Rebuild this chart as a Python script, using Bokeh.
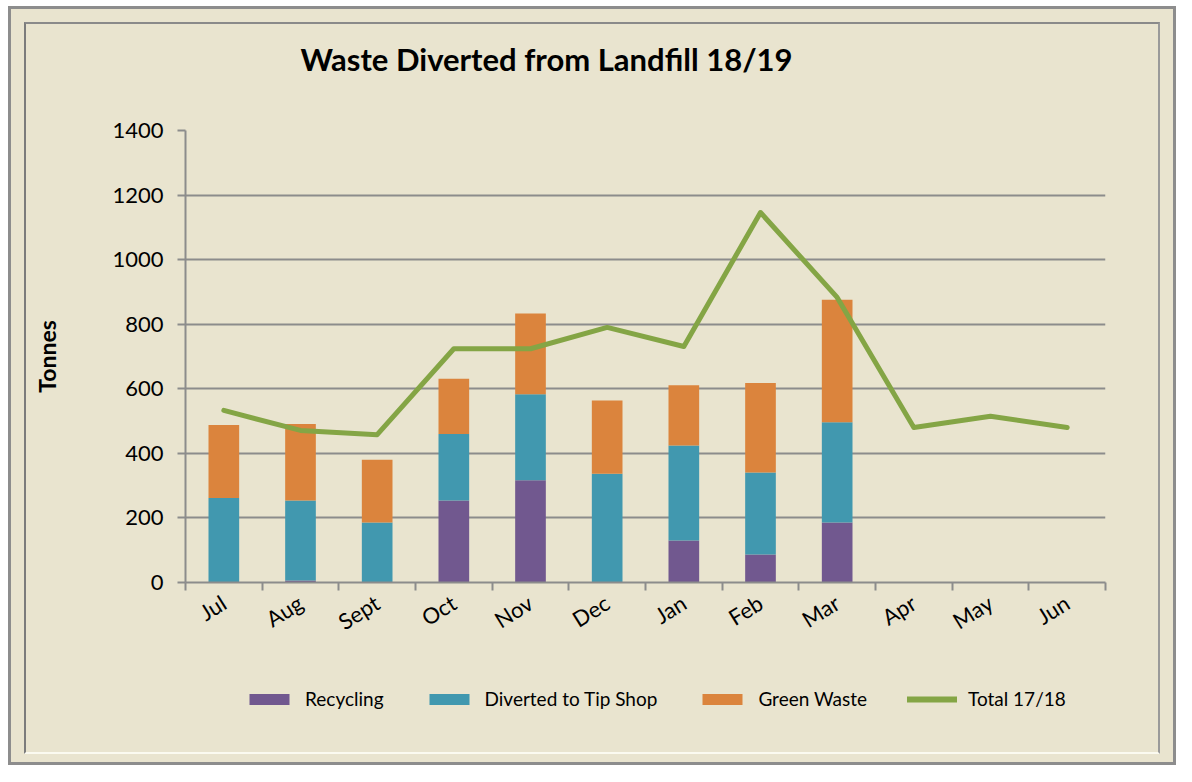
import math
from bokeh.plotting import figure
from bokeh.models import Range1d, FixedTicker, Legend, LegendItem, Label
from bokeh.layouts import column
from bokeh.embed import file_html
from bokeh.resources import INLINE

months = ["Jul", "Aug", "Sept", "Oct", "Nov", "Dec", "Jan", "Feb", "Mar", "Apr", "May", "Jun"]
recycling = [0, 6, 0, 254, 317, 0, 130, 87, 186, 0, 0, 0]
tip_shop = [262, 248, 186, 206, 266, 337, 294, 254, 310, 0, 0, 0]
green_waste = [226, 237, 194, 171, 250, 227, 187, 277, 380, 0, 0, 0]
total_1718 = [533, 471, 458, 724, 724, 790, 731, 1146, 883, 480, 515, 480]
y_ticks = [0, 200, 400, 600, 800, 1000, 1200, 1400]
series_names = ["Recycling", "Diverted to Tip Shop", "Green Waste", "Total 17/18"]
title_text = "Waste Diverted from Landfill 18/19"

BG = "#E9E4CF"
GRID = "#8C8C8C"
FONT = "Lato"
COLORS = ["#71588F", "#4198AF", "#DB843D"]
GREEN = "#84A545"

FW, FH = 920, 452         # plot frame size
MB_L, MB_R = 159, 53
TITLE_H = 60
LEG_H = 90


def blank_fig(h):
    f = figure(output_backend="svg", toolbar_location=None, height=h,
               frame_width=FW, min_border_left=MB_L, min_border_right=MB_R,
               min_border_top=0, min_border_bottom=0,
               x_range=Range1d(0, FW), y_range=Range1d(0, h),
               x_axis_type=None, y_axis_type=None, title=None,
               background_fill_color=BG, border_fill_color=BG,
               outline_line_color=None)
    f.xgrid.visible = False
    f.ygrid.visible = False
    return f


# ---- title strip
tf = blank_fig(TITLE_H)
tf.add_layout(Label(x=361, y=26, text=title_text, text_font=FONT, text_font_size="31px",
                    text_font_style="bold", text_align="center", text_baseline="middle",
                    text_color="#000000"))

# ---- main chart
xs = [i + 0.5 for i in range(len(months))]
data = dict(x=xs, recycling=recycling, tip_shop=tip_shop, green_waste=green_waste)

p = figure(
    output_backend="svg", toolbar_location=None, title=None,
    frame_width=FW, frame_height=FH,
    min_border_left=MB_L, min_border_right=MB_R,
    min_border_top=46, min_border_bottom=80,
    x_range=Range1d(0, 12), y_range=Range1d(0, 1400),
    background_fill_color=BG, border_fill_color=BG,
    outline_line_color=None,
)

bars = p.vbar_stack(["recycling", "tip_shop", "green_waste"], x="x", width=0.4,
                    color=COLORS, line_color=None, source=data)
line = p.line(xs, total_1718, line_color=GREEN, line_width=5, line_join="round", line_cap="round")

xaxis = p.xaxis[0]
xaxis.ticker = FixedTicker(ticks=xs, minor_ticks=list(range(13)))
xaxis.major_label_overrides = {x: m for x, m in zip(xs, months)}
xaxis.major_tick_out = 0
xaxis.major_tick_in = 0
xaxis.minor_tick_out = 8
xaxis.minor_tick_in = 0
xaxis.minor_tick_line_color = GRID
xaxis.minor_tick_line_width = 2
xaxis.axis_line_color = GRID
xaxis.axis_line_width = 2
xaxis.major_label_orientation = math.radians(32)
xaxis.major_label_text_font = FONT
xaxis.major_label_text_font_size = "22px"
xaxis.major_label_text_color = "#000000"
xaxis.major_label_standoff = 10

yaxis = p.yaxis[0]
yaxis.ticker = FixedTicker(ticks=y_ticks)
yaxis.minor_tick_line_color = None
yaxis.major_tick_out = 8
yaxis.major_tick_in = 0
yaxis.major_tick_line_color = GRID
yaxis.major_tick_line_width = 2
yaxis.axis_line_color = GRID
yaxis.axis_line_width = 2
yaxis.major_label_text_font = FONT
yaxis.major_label_text_font_size = "22px"
yaxis.major_label_text_color = "#000000"
yaxis.major_label_standoff = 14
yaxis.axis_label = "Tonnes"
yaxis.axis_label_text_font = FONT
yaxis.axis_label_text_font_size = "23px"
yaxis.axis_label_text_font_style = "bold"
yaxis.axis_label_text_color = "#000000"
yaxis.axis_label_standoff = 48

p.xgrid.grid_line_color = None
p.ygrid.grid_line_color = GRID
p.ygrid.grid_line_width = 2

# ---- legend strip (hidden copies of the series supply the legend swatches)
lf = blank_fig(LEG_H)
ldata = dict(x=xs, recycling=recycling, tip_shop=tip_shop, green_waste=green_waste)
swatches = lf.vbar_stack(["recycling", "tip_shop", "green_waste"], x="x", width=0.4,
                         color=COLORS, line_color=None, source=ldata)
swatch_line = lf.line(xs, total_1718, line_color=GREEN, line_width=6, line_cap="round")
for r in list(swatches) + [swatch_line]:
    r.visible = False

legend = Legend(items=[
    LegendItem(label=series_names[0], renderers=[swatches[0]]),
    LegendItem(label=series_names[1], renderers=[swatches[1]]),
    LegendItem(label=series_names[2], renderers=[swatches[2]]),
    LegendItem(label=series_names[3], renderers=[swatch_line]),
], orientation="horizontal", location=(59, 42),
    glyph_width=50, glyph_height=14, label_height=14, label_standoff=11, spacing=40,
    label_text_font=FONT, label_text_font_size="19px", label_text_color="#000000",
    inactive_fill_alpha=0, click_policy="none",
    padding=0, margin=0, border_line_color=None, background_fill_alpha=0)
lf.add_layout(legend, "center")

mid = column(tf, p, lf, spacing=0,
             styles={"border-left": "2px solid #7c7c7c", "border-top": "2px solid #8a8a8a",
                     "border-right": "2px solid #9a9a9a", "border-bottom": "2px solid #fbfaf0",
                     "background-color": BG})
inner = column(mid, styles={"border": "3px solid #8d8d8d", "padding": "13px 13px 8px 13px",
                            "background-color": BG})
root = column(inner, styles={"padding": "6px 0px 0px 8px", "background-color": "#FFFFFF"})

open("out.html", "w").write(file_html(root, INLINE))
